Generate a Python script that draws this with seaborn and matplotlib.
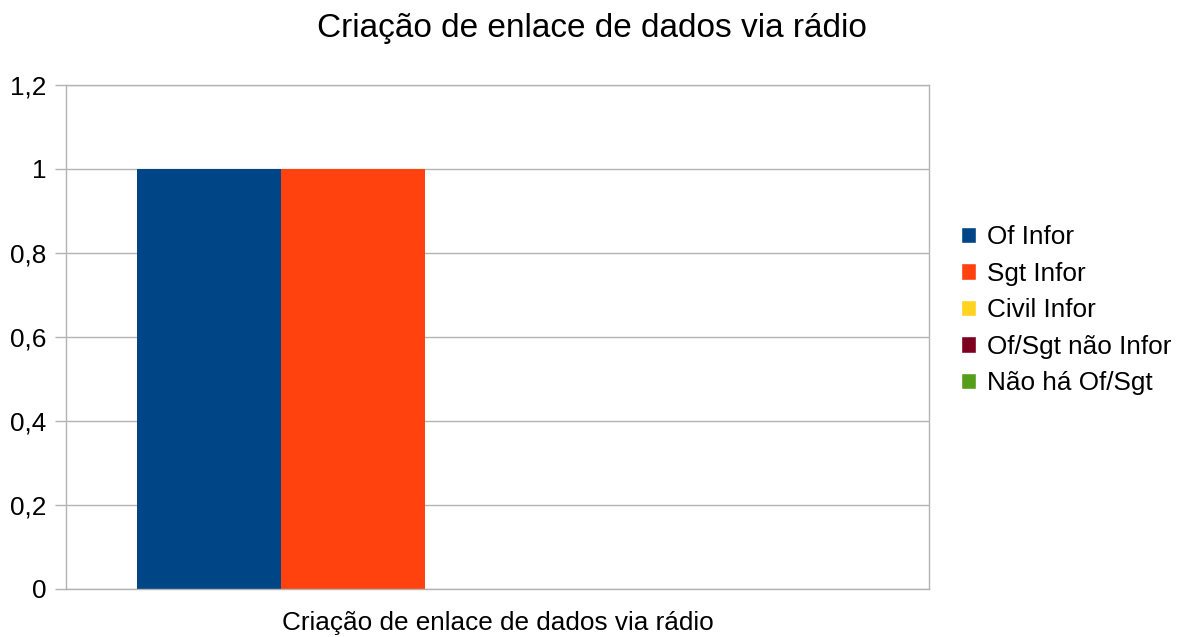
import pandas as pd
import seaborn as sns
import matplotlib
matplotlib.use("Agg")
import matplotlib.pyplot as plt
from matplotlib.patches import Patch

# dados
categoria = ["Criação de enlace de dados via rádio"]
series = ["Of Infor", "Sgt Infor", "Civil Infor", "Of/Sgt não Infor", "Não há Of/Sgt"]
valores = [1, 1, 0, 0, 0]
cores = ["#004586", "#ff420e", "#ffd320", "#7e0021", "#579d1c"]
yticks = [0, 0.2, 0.4, 0.6, 0.8, 1.0, 1.2]
ytick_labels = ["0", "0,2", "0,4", "0,6", "0,8", "1", "1,2"]

df = pd.DataFrame({
    "categoria": categoria * len(series),
    "serie": series,
    "valor": valores,
})

sns.set_style("white")
plt.rcParams["font.family"] = ["Liberation Sans", "DejaVu Sans"]
plt.rcParams["text.color"] = "black"
plt.rcParams["xtick.labelcolor"] = "black"
plt.rcParams["ytick.labelcolor"] = "black"
fs = 18.8

fig = plt.figure(figsize=(11.83, 6.37), dpi=100)
ax = fig.add_axes([0.0558, 0.0754, 0.7295, 0.7912])

sns.barplot(data=df, x="categoria", y="valor", hue="serie", hue_order=series,
            palette=cores, width=0.835, saturation=1, legend=False,
            linewidth=0, ax=ax)

ax.set_xlim(-0.5, 0.5)
ax.set_ylim(0, 1.2)
ax.set_yticks(yticks)
ax.set_yticklabels(ytick_labels, fontsize=fs)
ax.yaxis.grid(True, color="#b3b3b3", linewidth=1)
ax.set_axisbelow(True)
for s in ax.spines.values():
    s.set_color("#b3b3b3")
    s.set_linewidth(1)

ax.set_xticks([-0.5, 0.5], minor=True)
ax.set_xticks([0])
ax.set_xticklabels(categoria, fontsize=fs)
ax.tick_params(axis="x", which="major", length=0, pad=16)
ax.tick_params(axis="x", which="minor", length=8, color="#b3b3b3", width=1)
ax.tick_params(axis="y", length=8, color="#b3b3b3", width=1, left=True, pad=6)
ax.set_xlabel("")
ax.set_ylabel("")

handles = [Patch(facecolor=c, label=s) for c, s in zip(cores, series)]
fig.legend(handles=handles, loc="center left", bbox_to_anchor=(0.812, 0.513),
           frameon=False, fontsize=fs, handlelength=0.58, handleheight=0.58,
           handletextpad=0.42, labelspacing=0.48, borderpad=0, borderaxespad=0)

fig.suptitle("Criação de enlace de dados via rádio", fontsize=24, y=0.98)

fig.savefig("out.png", dpi=100)
